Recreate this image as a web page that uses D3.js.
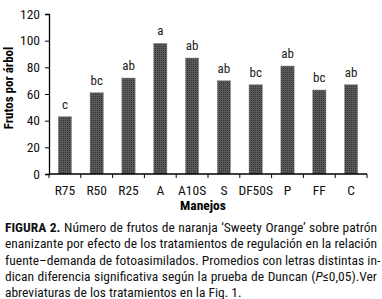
<!DOCTYPE html>
<html>
<head>
<meta charset="utf-8">
<script src="https://cdn.jsdelivr.net/npm/d3@7"></script>
<style>
  body { margin: 0; background: #fff; }
  #wrap { position: relative; width: 382px; height: 299px; overflow: hidden; }
  #caption {
    position: absolute; left: 5px; top: 219px; width: 372px;
    font-family: "Roboto Condensed", "Liberation Sans Narrow", sans-serif;
    font-size: 13.5px; line-height: 16.3px; color: #111;
  }
  #caption div { text-align: justify; text-align-last: justify; white-space: nowrap; }
  #caption div.last { text-align-last: left; }
</style>
</head>
<body>
<div id="wrap">
  <div id="chart"></div>
  <div id="caption">
    <div><b>FIGURA 2.</b> Número de frutos de naranja ‘Sweety Orange’ sobre patrón</div>
    <div>enanizante por efecto de los tratamientos de regulación en la relación</div>
    <div>fuente–demanda de fotoasimilados. Promedios con letras distintas in-</div>
    <div>dican diferencia significativa según la prueba de Duncan (<i>P</i>≤0,05).Ver</div>
    <div class="last">abreviaturas de los tratamientos en la Fig. 1.</div>
  </div>
</div>
<script>
// data
var treatments = ["R75", "R50", "R25", "A", "A10S", "S", "DF50S", "P", "FF", "C"];
var fruits = [43, 61, 72, 98, 87, 70, 67, 81, 63, 67];
var letters = ["c", "bc", "ab", "a", "ab", "ab", "bc", "ab", "bc", "ab"];
var yTicks = [0, 20, 40, 60, 80, 100, 120];

var margin = { top: 14, right: 15, bottom: 125, left: 49 },
    width = 382 - margin.left - margin.right,
    height = 299 - margin.top - margin.bottom;

var font = '"Roboto Condensed", "Liberation Sans Narrow", sans-serif';

var svg = d3.select("#chart").append("svg")
    .attr("width", 382)
    .attr("height", 299)
    .style("position", "absolute")
    .style("left", 0).style("top", 0)
  .append("g")
    .attr("transform", "translate(" + margin.left + "," + margin.top + ")");

// dotted dark fill like the printed bars
var defs = svg.append("defs");
var pat = defs.append("pattern")
    .attr("id", "dots")
    .attr("width", 2).attr("height", 2)
    .attr("patternUnits", "userSpaceOnUse");
pat.append("rect").attr("width", 2).attr("height", 2).attr("fill", "#5a5a5a");
pat.append("rect").attr("width", 1).attr("height", 1).attr("fill", "#333");

var x = d3.scaleBand()
    .domain(treatments)
    .range([0, width])
    .paddingInner(0.58)
    .paddingOuter(0.29);

var y = d3.scaleLinear()
    .domain([0, 120])
    .range([height, 0]);

// bars
svg.selectAll(".bar")
    .data(fruits)
    .enter().append("rect")
    .attr("class", "bar")
    .attr("x", function (d, i) { return x(treatments[i]); })
    .attr("y", function (d) { return y(d); })
    .attr("width", x.bandwidth())
    .attr("height", function (d) { return height - y(d); })
    .attr("fill", "url(#dots)")
    .attr("stroke", "#999")
    .attr("stroke-width", 0.5);

// significance letters
svg.selectAll(".letter")
    .data(fruits)
    .enter().append("text")
    .attr("class", "letter")
    .attr("x", function (d, i) { return x(treatments[i]) + x.bandwidth() / 2; })
    .attr("y", function (d) { return y(d) - 8; })
    .attr("text-anchor", "middle")
    .style("font-family", font)
    .style("font-size", "13px")
    .style("fill", "#222")
    .text(function (d, i) { return letters[i]; });

// y axis
var yAxis = svg.append("g")
    .call(d3.axisLeft(y).tickValues(yTicks).tickSize(4).tickPadding(5));
yAxis.select(".domain").attr("stroke", "#000").attr("stroke-width", 1.3);
yAxis.selectAll("text").style("font-family", font).style("font-size", "13.5px").style("fill", "#111");

// x axis: ticks between categories
var xAxis = svg.append("g")
    .attr("transform", "translate(0," + height + ")");
xAxis.append("line")
    .attr("x1", 0).attr("x2", width)
    .attr("stroke", "#000").attr("stroke-width", 1.3);
var step = x.step();
xAxis.selectAll(".xtick")
    .data(d3.range(treatments.length + 1))
    .enter().append("line")
    .attr("x1", function (i) { return x(treatments[0]) - x.paddingOuter() * step + i * step; })
    .attr("x2", function (i) { return x(treatments[0]) - x.paddingOuter() * step + i * step; })
    .attr("y1", 0).attr("y2", 4)
    .attr("stroke", "#000");
xAxis.selectAll(".xlabel")
    .data(treatments)
    .enter().append("text")
    .attr("x", function (d) { return x(d) + x.bandwidth() / 2; })
    .attr("y", 21)
    .attr("text-anchor", "middle")
    .style("font-family", font)
    .style("font-size", "13.5px")
    .style("fill", "#111")
    .text(function (d) { return d; });

// axis titles
svg.append("text")
    .attr("x", width / 2 - 5)
    .attr("y", height + 36)
    .attr("text-anchor", "middle")
    .style("font-family", font)
    .style("font-size", "13.5px")
    .style("font-weight", "bold")
    .text("Manejos");

svg.append("text")
    .attr("transform", "translate(-36," + (height / 2 - 6) + ") rotate(-90)")
    .attr("text-anchor", "middle")
    .style("font-family", font)
    .style("font-size", "13px")
    .style("font-weight", "bold")
    .text("Frutos por árbol");
</script>
</body>
</html>
